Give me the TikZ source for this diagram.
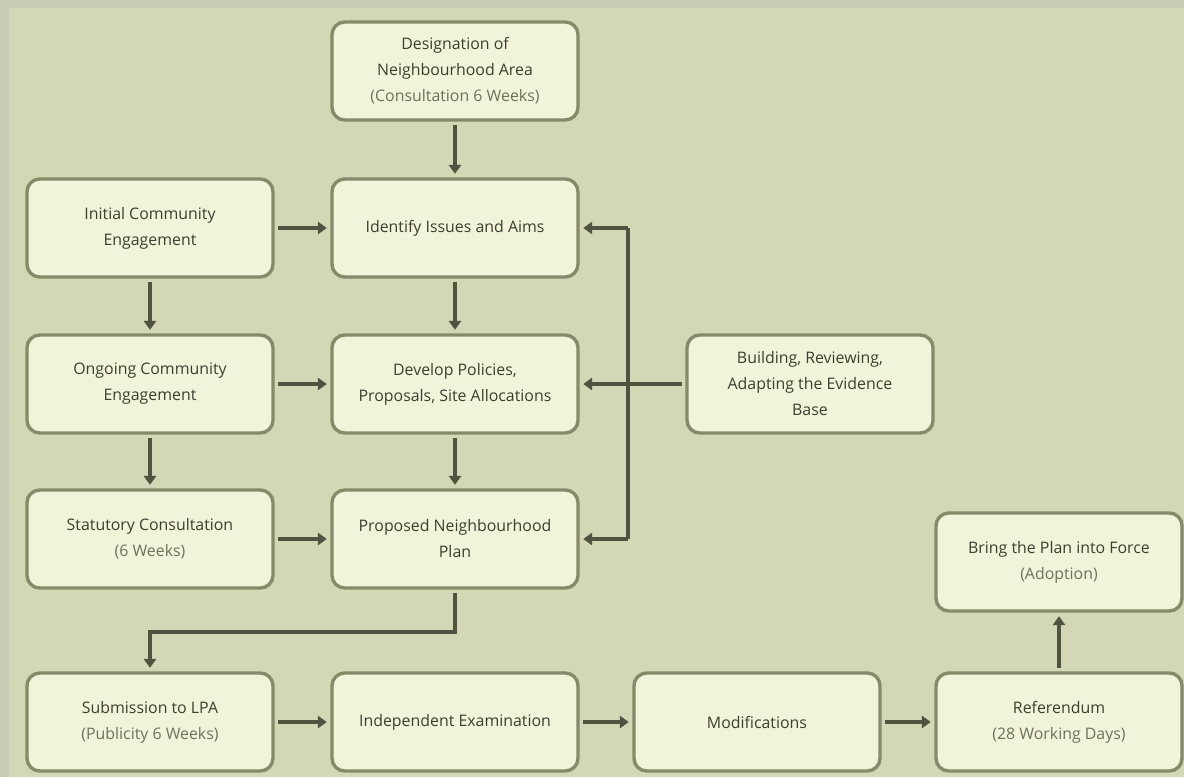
\documentclass[tikz,border=0pt]{standalone}
\usepackage{fontspec}
\setmainfont{Open Sans}
\usetikzlibrary{arrows.meta}
\definecolor{framegrey}{HTML}{C9CBB4}
\definecolor{paper}{HTML}{D3D7B5}
\definecolor{boxfill}{HTML}{F1F4D9}
\definecolor{boxline}{HTML}{868A69}
\definecolor{flowline}{HTML}{50533F}
\definecolor{maintext}{HTML}{3C3F30}
\definecolor{subtext}{HTML}{6E725C}
\tikzset{
  stage/.style={draw=boxline, fill=boxfill, line width=2.4pt, rounded corners=0.32cm,
    minimum width=6.15cm, minimum height=2.45cm, align=center, text=maintext,
    font=\fontsize{11.3}{18.5}\selectfont, outer sep=0.13cm},
  flow/.style={draw=flowline, line width=2.8pt, -{Triangle[length=2.2mm, width=3mm]}},
  bus/.style={draw=flowline, line width=2.8pt}
}
\newcommand{\sub}[1]{\textcolor{subtext}{#1}}
\begin{document}
\begin{tikzpicture}[x=0.025cm, y=-0.025cm]
% Frame and background
\useasboundingbox (0,0) rectangle (1184,777);
\fill[framegrey] (0,0) rectangle (1184,777);
\fill[paper] (9,8) rectangle (1184,777);

% Stages
\node[stage] (designation) at (455,71) {Designation of\\Neighbourhood Area\\\sub{(Consultation 6 Weeks)}};
\node[stage] (initial) at (150,228) {Initial Community\\Engagement};
\node[stage] (identify) at (455,228) {Identify Issues and Aims};
\node[stage] (ongoing) at (150,384) {Ongoing Community\\Engagement};
\node[stage] (develop) at (455,384) {Develop Policies,\\Proposals, Site Allocations};
\node[stage] (evidence) at (810,384) {Building, Reviewing,\\Adapting the Evidence\\Base};
\node[stage] (statutory) at (150,539) {Statutory Consultation\\\sub{(6 Weeks)}};
\node[stage] (proposed) at (455,539) {Proposed Neighbourhood\\Plan};
\node[stage] (force) at (1059,562) {Bring the Plan into Force\\\sub{(Adoption)}};
\node[stage] (submission) at (150,722) {Submission to LPA\\\sub{(Publicity 6 Weeks)}};
\node[stage] (examination) at (455,722) {Independent Examination};
\node[stage] (modifications) at (757,722) {Modifications};
\node[stage] (referendum) at (1059,722) {Referendum\\\sub{(28 Working Days)}};

% Main flow
\draw[flow] (designation) -- (identify);
\draw[flow] (identify) -- (develop);
\draw[flow] (develop) -- (proposed);
\draw[flow] (initial) -- (identify);
\draw[flow] (ongoing) -- (develop);
\draw[flow] (statutory) -- (proposed);
\draw[flow] (initial) -- (ongoing);
\draw[flow] (ongoing) -- (statutory);
\coordinate (elbow) at (455,632);
\draw[flow] (proposed) -- (elbow) -| (submission);
\draw[flow] (submission) -- (examination);
\draw[flow] (examination) -- (modifications);
\draw[flow] (modifications) -- (referendum);
\draw[flow] (referendum) -- (force);

% Evidence feedback
\coordinate (bustop) at (628,228);
\coordinate (busbot) at (628,539);
\draw[bus] (bustop) -- (busbot);
\draw[flow] (bustop) -- (identify);
\draw[flow] (busbot) -- (proposed);
\draw[flow] (evidence) -- (develop);
\end{tikzpicture}
\end{document}
